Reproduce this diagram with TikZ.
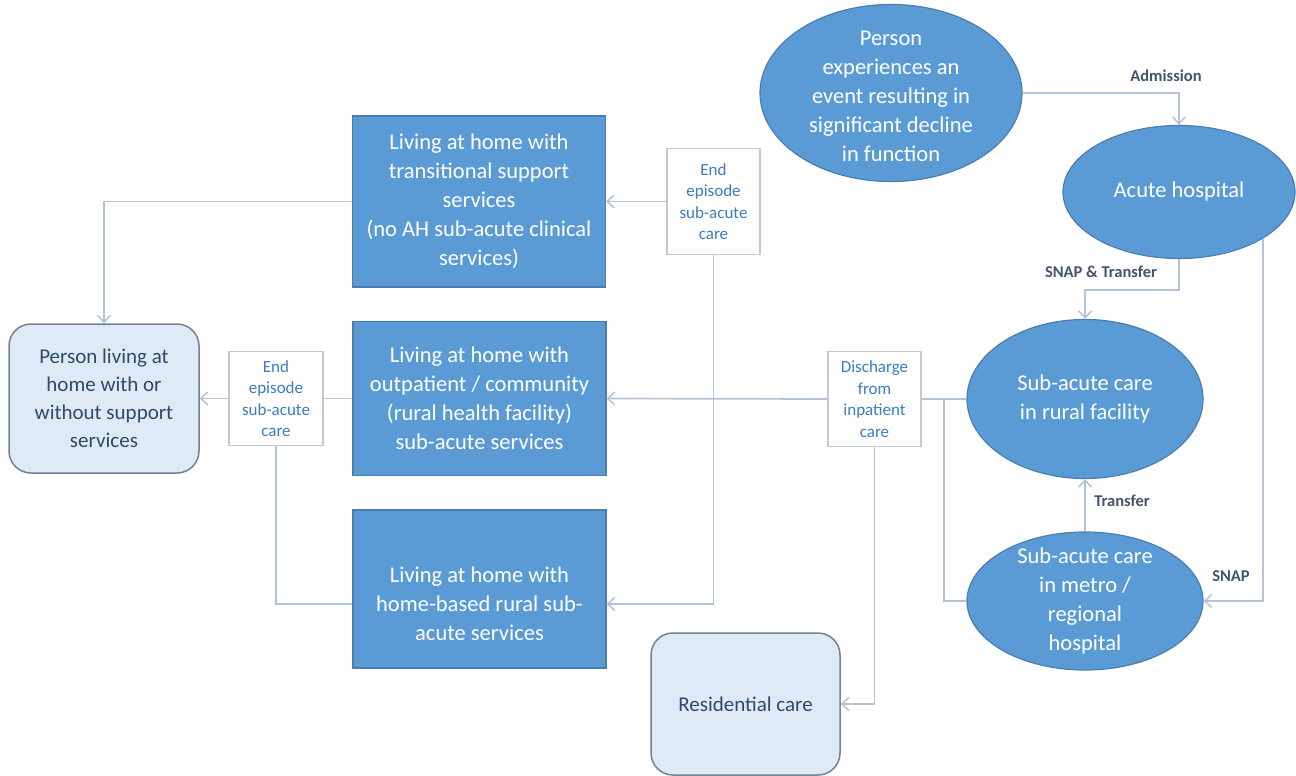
\documentclass[tikz,border=0pt]{standalone}
\usepackage{fontspec}
\setmainfont{Carlito}
\usetikzlibrary{shapes.geometric,arrows.meta,calc}
\definecolor{bfill}{HTML}{5B9BD5}
\definecolor{bline}{HTML}{4A7EB0}
\definecolor{lfill}{HTML}{DEEBF7}
\definecolor{lline}{HTML}{6F8298}
\definecolor{ltext}{HTML}{2F4A68}
\definecolor{conncol}{HTML}{B3C2D4}
\definecolor{stext}{HTML}{3D7CC0}
\definecolor{sline}{HTML}{C3C9D2}
\definecolor{lab}{HTML}{44546A}
\tikzset{
  bluebox/.style={rectangle, fill=bfill, draw=bline, line width=1.2pt, text=white,
    font=\fontsize{22.5}{29}\selectfont, align=center, inner sep=0pt},
  ell/.style={ellipse, fill=bfill, draw=bline, line width=1.2pt, inner sep=0pt},
  whitetext/.style={text=white, font=\fontsize{22.5}{29}\selectfont, align=center, inner sep=0pt},
  lightbox/.style={rectangle, rounded corners=22pt, fill=lfill, draw=lline, line width=1.5pt,
    text=ltext, font=\fontsize{21}{28}\selectfont, align=center, inner sep=0pt},
  smallbox/.style={rectangle, fill=white, draw=sline, line width=1.2pt, text=stext,
    font=\fontsize{17}{21.5}\selectfont, align=center, inner sep=0pt},
  link/.style={draw=conncol, line width=1.7pt},
  arr/.style={-{Straight Barb[length=7pt,width=13pt,line width=1.5pt]}},
  lbl/.style={text=lab, font=\bfseries\fontsize{16.5}{19}\selectfont, inner sep=0pt}
}
\begin{document}
\begin{tikzpicture}[x=1pt,y=-1pt]
\useasboundingbox (0,0) rectangle (1296,776);
\fill[white] (0,0) rectangle (1296,776);

% right side ellipses
\node[ell, minimum width=262, minimum height=177] (ev) at (891,93) {};
\node[whitetext] (evt) at ([yshift=-3pt]ev.center) {Person\\experiences an\\event resulting in\\significant decline\\in function};
\node[ell, minimum width=232, minimum height=133] (acute) at (1179,192) {};
\node[whitetext] (acutet) at (acute.center) {Acute hospital};
\node[ell, minimum width=236, minimum height=159] (rural) at (1085,399) {};
\node[whitetext] (ruralt) at (rural.center) {Sub-acute care\\in rural facility};
\node[ell, minimum width=236, minimum height=138] (metro) at (1085,601) {};
\node[whitetext] (metrot) at (metro.center) {Sub-acute care\\in metro /\\regional\\hospital};

% small white boxes
\node[smallbox, minimum width=93, minimum height=95] (dis) at (874.5,399) {Discharge\\from\\inpatient\\care};
\node[smallbox, minimum width=93, minimum height=106] (end1) at (713.5,201.5) {End\\episode\\sub-acute\\care};
\node[smallbox, minimum width=94, minimum height=94] (end2) at (276,398.5) {End\\episode\\sub-acute\\care};

% blue boxes
\node[bluebox, minimum width=253, minimum height=171] (trans) at (479,201.5) {Living at home with\\transitional support\\services\\(no AH sub-acute clinical\\services)};
\node[bluebox, minimum width=253, minimum height=154] (outp) at (479.5,398.5) {Living at home with\\outpatient / community\\(rural health facility)\\sub-acute services};
\node[bluebox, minimum width=253, minimum height=158] (hb) at (479.5,589) {};
\node[whitetext] (hbt) at ([yshift=-15pt]hb.center) {Living at home with\\home-based rural sub-\\acute services};

% light boxes
\node[lightbox, minimum width=190, minimum height=149] (home) at (104,398.5) {Person living at\\home with or\\without support\\services};
\node[lightbox, minimum width=189, minimum height=142] (res) at (745.5,704) {Residential care};

% connectors
\draw[link,arr] (ev.east) -| (acute.north);
\draw[link,arr] (acute.south) -- ++(0,31) -| (rural.north);
\draw[link,arr] (acute.-29) |- (metro.east);
\draw[link,arr] (metro.north) -- (rural.south);
\coordinate (j1) at (944,399);
\draw[link] (rural.west) -- (dis.east);
\draw[link] (metro.west) -| (j1);
\draw[link,arr] (dis.west) -- (outp.east);
\draw[link,arr] (dis.south) |- (res.east);
\draw[link,arr] (end1.south) |- (hbt -| hb.east);
\draw[link,arr] (end1.west) -- (trans.east);
\draw[link,arr] (trans.west) -| (home.north);
\draw[link] (outp.west) -- (end2.east);
\draw[link,arr] (end2.west) -- (home.east);
\draw[link] (hbt -| hb.west) -| (end2.south);

% labels
\node[lbl] (l1) at (1166,76) {Admission};
\node[lbl] (l2) at (1101,272) {SNAP \& Transfer};
\node[lbl] (l3) at (1122,501) {Transfer};
\node[lbl] (l4) at (1231,576) {SNAP};
\end{tikzpicture}
\end{document}
